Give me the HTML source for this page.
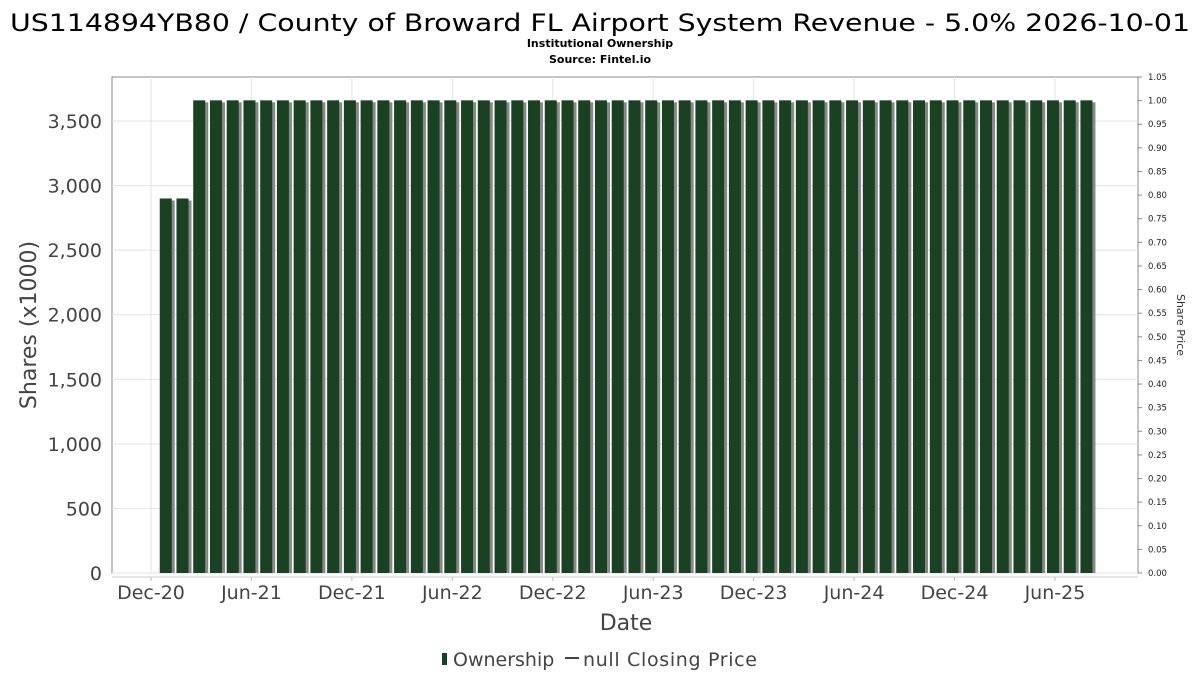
<!DOCTYPE html>
<html><head><meta charset="utf-8"><style>
body{margin:0;background:#fff;font-family:"DejaVu Sans","Liberation Sans",sans-serif}
</style></head><body>
<svg width="1200" height="675" font-family="DejaVu Sans, Liberation Sans, sans-serif">
<text x="600" y="31" text-anchor="middle" font-size="24" textLength="1180" lengthAdjust="spacingAndGlyphs" fill="#000">US114894YB80 / County of Broward FL Airport System Revenue - 5.0% 2026-10-01</text>
<text x="600" y="47" text-anchor="middle" font-size="11" font-weight="bold">Institutional Ownership</text>
<text x="600" y="63" text-anchor="middle" font-size="11" font-weight="bold">Source: Fintel.io</text>
<rect x="112" y="77" width="1026" height="496" fill="#fff" stroke="#888"/>
<g id="grid"></g><g id="bars"></g><g id="axes"></g>
<text transform="translate(36,325) rotate(-90)" text-anchor="middle" font-size="22" fill="#444">Shares (x1000)</text>
<text x="626" y="630" text-anchor="middle" font-size="22" fill="#444">Date</text>
<text transform="translate(1177,325) rotate(90)" text-anchor="middle" font-size="11" fill="#333">Share Price</text>
<g>
<rect x="442" y="653" width="5" height="12" fill="#1a4222"/>
<text x="453" y="666" font-size="19" fill="#444">Ownership</text>
<line x1="565" y1="658" x2="579" y2="658" stroke="#444" stroke-width="2"/>
<text x="583" y="666" font-size="19" fill="#444" textLength="174">null Closing Price</text>
</g>
</svg>
<script>
const months=[];for(let m=1;m<=56;m++)months.push(m);
const shares=[2900,2900].concat(Array(54).fill(3660));
const yTicks=[0,500,1000,1500,2000,2500,3000,3500];
const priceTicks=[];for(let i=0;i<=21;i++)priceTicks.push(i*0.05);
const xLabels=["Dec-20","Jun-21","Dec-21","Jun-22","Dec-22","Jun-23","Dec-23","Jun-24","Dec-24","Jun-25"];
const NS="http://www.w3.org/2000/svg";
const yS=v=>573-v*(452/3500);
const pS=v=>573-v*(496/1.05);
const xS=m=>151+m*16.74;
function mk(t,a,p){const e=document.createElementNS(NS,t);for(const k in a)e.setAttribute(k,a[k]);p.appendChild(e);return e;}
const grid=document.getElementById('grid'),bars=document.getElementById('bars'),axes=document.getElementById('axes');
yTicks.forEach(v=>{
 const l=mk('line',{x1:112,x2:1138,y1:yS(v),y2:yS(v),stroke:'#e3e3e3'},grid);
 
 
 const t=mk('text',{x:102,y:yS(v)+7,'text-anchor':'end','font-size':19,fill:'#444'},axes);
 t.textContent=v.toLocaleString('en-US');
 
 
});
xLabels.forEach((s,i)=>{
 const x=xS(i*6);
 const l=mk('line',{x1:x,x2:x,y1:77,y2:573,stroke:'#e3e3e3'},grid);
 
 
 const tk=mk('line',{x1:x,x2:x,y1:577,y2:581,stroke:'#bbb'},axes);
 
 
 const t=mk('text',{x:x,y:599,'text-anchor':'middle','font-size':19,fill:'#444'},axes);
 t.textContent=s;
 
 
});
const xl=mk('line',{x1:112,x2:1138,y1:577,y2:577,stroke:'#ccc'},axes);


priceTicks.forEach(v=>{
 const tk=mk('line',{x1:1138,x2:1142,y1:pS(v),y2:pS(v),stroke:'#888'},axes);
 
 
 const t=mk('text',{x:1148,y:pS(v)+3,'font-size':8.5,fill:'#222'},axes);
 t.textContent=v.toFixed(2);
 
 
});
months.forEach((m,i)=>{
 const cx=xS(m)-2,y=yS(shares[i]);
 const sh=mk('rect',{x:cx-3,y:y+2,width:12,height:573-y-2,fill:'#888'},bars);
 
 
 const b=mk('rect',{x:cx-6,y:y,width:12,height:573-y,fill:'#1a4222'},bars);
 
 
});
</script>
</body></html>
